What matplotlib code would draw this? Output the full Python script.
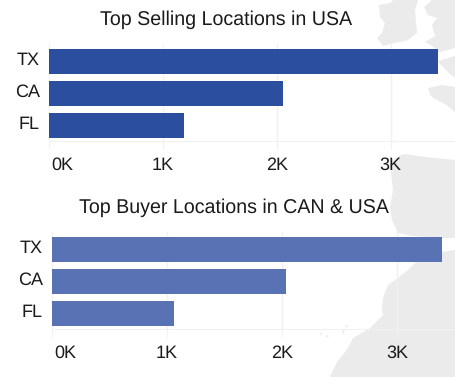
"""Two horizontal bar charts over a faint map background."""

import matplotlib
matplotlib.use("Agg")
import matplotlib.pyplot as plt
from matplotlib.patches import Polygon
from matplotlib.ticker import FuncFormatter
from matplotlib.transforms import ScaledTranslation

plt.rcParams["font.family"] = ["Liberation Sans", "DejaVu Sans"]
plt.rcParams["text.hinting"] = "no_hinting"
plt.rcParams["text.hinting_factor"] = 8

states = ["TX", "CA", "FL"]
selling_values = [3415, 2055, 1187]
buyer_values = [3387, 2034, 1062]
x_ticks = [0, 1000, 2000, 3000]

WIDTH, HEIGHT = 455, 377
MAP_COLOR = "#ebebeb"
GRID_COLOR = "#f1f1f1"
TEXT_COLOR = "#1a1a1a"

# background map outlines, in image pixels
ireland = [(379, 5), (390, 3), (393, 0), (418, 0), (415, 10), (417, 33),
           (408, 40), (395, 43), (383, 46), (377, 38), (382, 33), (385, 23), (380, 17)]
britain = [(425, 42), (435, 36), (432, 25), (437, 18), (428, 15), (424, 7), (432, 0),
           (455, 0), (455, 48), (440, 52), (432, 46)]
normandy = [(438, 61), (455, 56), (455, 78), (448, 72), (440, 64)]
brittany = [(428, 88), (433, 87), (442, 85), (455, 87), (455, 112), (445, 104),
            (435, 99), (430, 95)]
iberia = [(392, 162), (398, 156), (405, 154), (425, 157), (455, 160), (455, 238), (442, 238),
          (412, 236), (398, 233), (392, 220), (390, 207), (393, 190), (391, 173)]
africa = [(455, 250), (442, 252), (425, 258), (415, 263), (408, 270), (398, 278), (388, 285),
          (383, 298), (382, 308), (383, 315), (370, 328), (353, 338), (348, 348),
          (337, 362), (330, 377), (455, 377)]
canaries = [[(345, 326), (348, 325), (347, 328)], [(342, 331), (345, 330), (343, 335)],
            [(326, 335), (329, 336), (327, 338)], [(320, 333), (322, 333), (321, 336)]]


def k_label(value, _pos):
    return f"{value / 1000:.0f}K"


def draw_panel(fig, values, color, left, top, title, title_x, title_y):
    bottom = top + 96.5
    ax = fig.add_axes([left / WIDTH, 1 - bottom / HEIGHT,
                       (WIDTH - left) / WIDTH, (bottom - top) / HEIGHT])
    ax.patch.set_alpha(0)
    ax.barh(states, values, height=0.77, color=color, zorder=2)
    scale = 114.0 if left < 50 else 115.2
    ax.set_xlim(0, (WIDTH - left) / scale * 1000)
    ax.set_ylim(2.475, -0.54)
    ax.set_xticks(x_ticks)
    ax.xaxis.set_major_formatter(FuncFormatter(k_label))
    ax.grid(True, axis="x", color=GRID_COLOR, linewidth=1, zorder=0)
    for name, spine in ax.spines.items():
        spine.set_visible(name == "bottom")
    ax.spines["bottom"].set_color(GRID_COLOR)
    ax.tick_params(axis="x", length=5.5, width=0.75, color=GRID_COLOR, pad=6.2,
                   labelsize=13, labelcolor=TEXT_COLOR)
    ax.tick_params(axis="y", length=0, pad=6.5, labelsize=13, labelcolor=TEXT_COLOR)

    # the first x label sits inside the plot, state labels ride a little high
    first = ax.get_xticklabels()[0]
    first.set_transform(first.get_transform() + ScaledTranslation(13.5 / 100, 0, fig.dpi_scale_trans))
    for label in ax.get_yticklabels():
        label.set_transform(label.get_transform() + ScaledTranslation(0, 2.5 / 100, fig.dpi_scale_trans))

    fig.text(title_x / WIDTH, 1 - title_y / HEIGHT, title, ha="center", va="baseline",
             fontsize=14.1, color=TEXT_COLOR)
    return ax


fig = plt.figure(figsize=(WIDTH / 100, HEIGHT / 100), dpi=100, facecolor="white")

bg = fig.add_axes([0, 0, 1, 1], zorder=-1)
bg.set_xlim(0, WIDTH)
bg.set_ylim(HEIGHT, 0)
bg.axis("off")
for outline in [ireland, britain, normandy, brittany, iberia, africa] + canaries:
    bg.add_patch(Polygon(outline, closed=True, facecolor=MAP_COLOR, edgecolor="none"))

draw_panel(fig, selling_values, "#2c4e9e", 48.7, 44, "Top Selling Locations in USA", 226.5, 25)
draw_panel(fig, buyer_values, "#5872b4", 51.7, 232, "Top Buyer Locations in CAN & USA", 233.5, 213)

fig.savefig("out.png", dpi=100)
plt.close(fig)
